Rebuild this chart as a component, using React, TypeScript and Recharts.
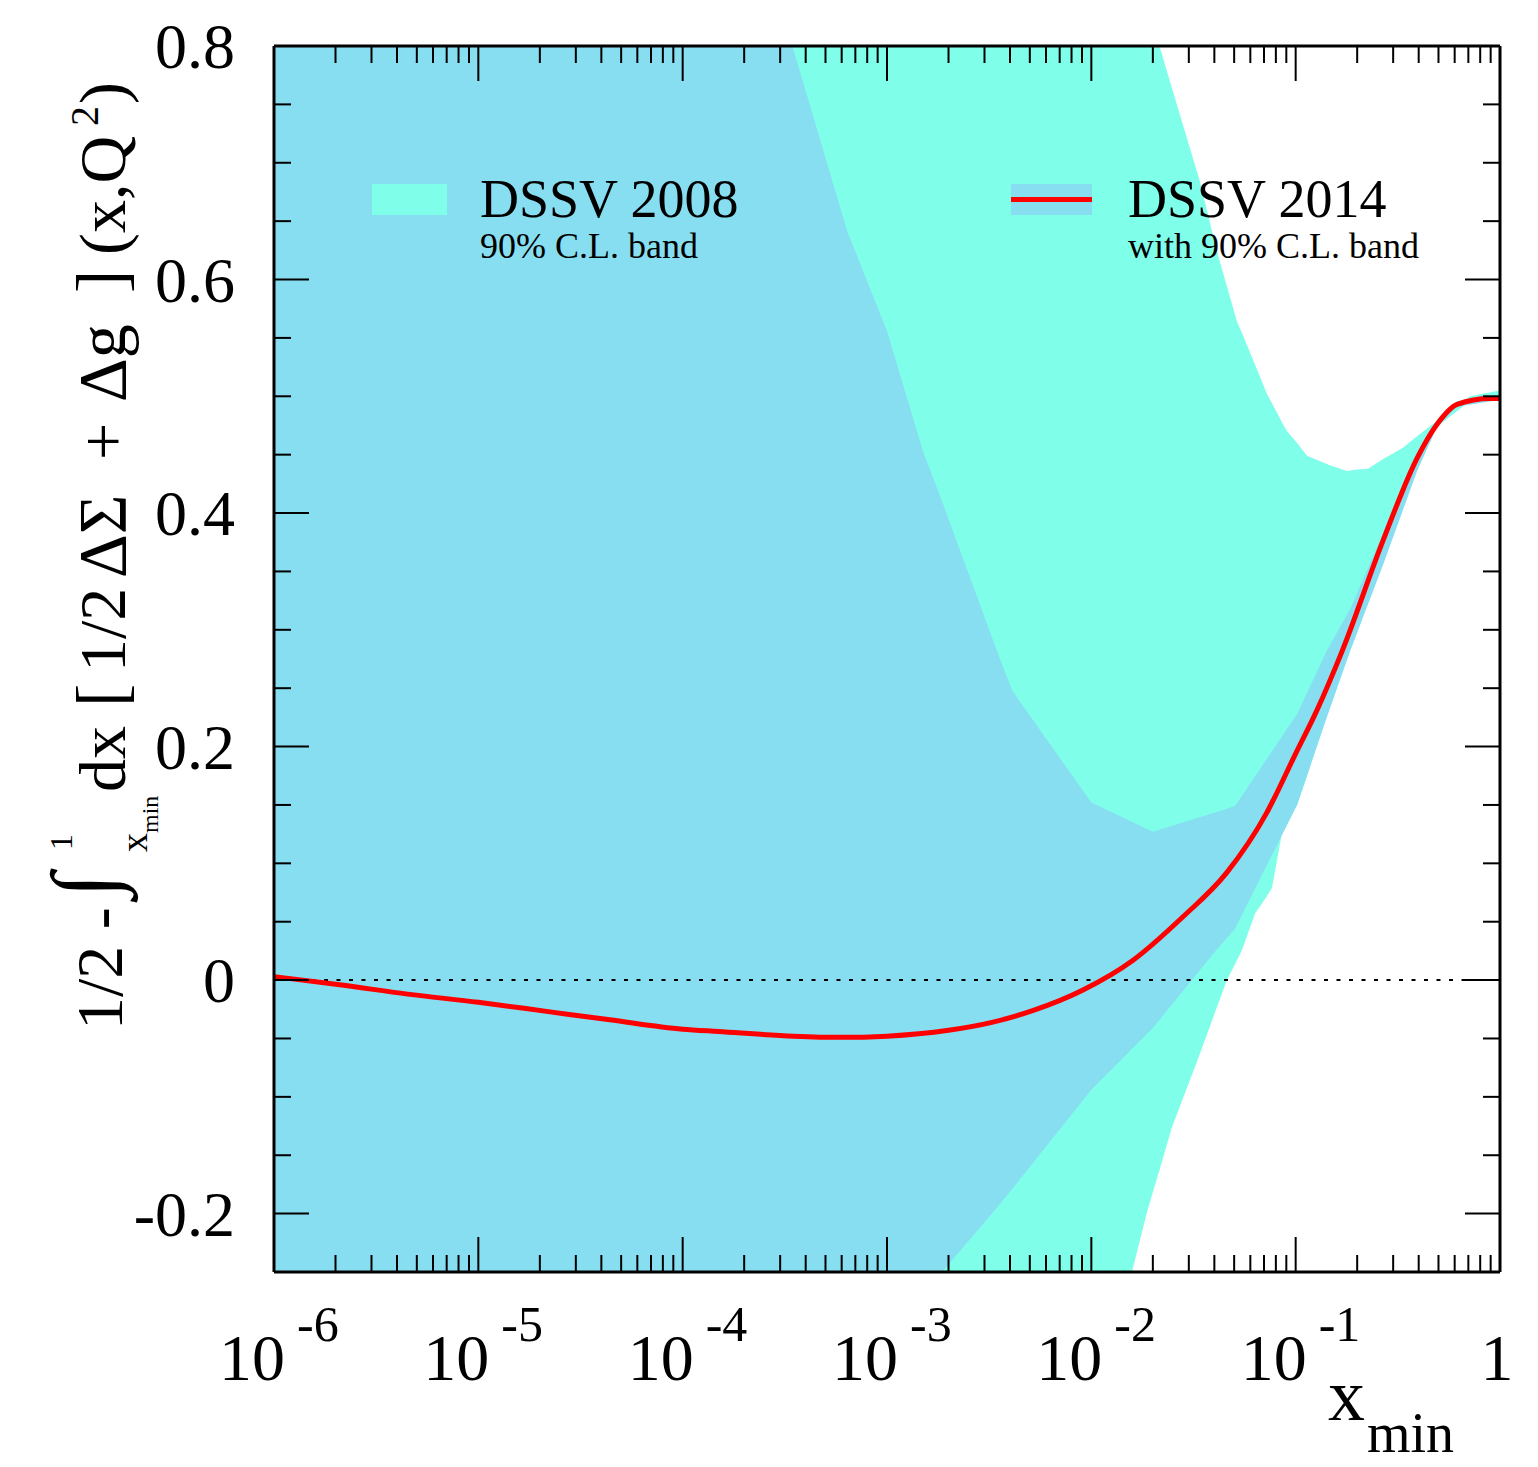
import { ComposedChart, Area, Line, XAxis, YAxis, ReferenceLine } from "recharts";

const W = 1538;
const H = 1467;
const FONT = '"Liberation Serif", "Times New Roman", serif';
const BAND_2008 = "#7ffee9";
const BAND_2014 = "#88def1";

// DSSV 2014 central curve
const curveX = [
  1e-6, 2.1e-6, 4.5e-6, 1e-5, 2.2e-5, 4.4e-5, 1e-4, 1.5e-4, 3.5e-4, 5.9e-4, 1e-3, 2e-3, 3.3e-3, 5.2e-3,
  9.1e-3, 1.6e-2, 2.8e-2, 4.6e-2, 7.2e-2, 0.1, 0.127, 0.169, 0.267, 0.393, 0.492, 0.617, 0.893, 1,
];
const curveY = [
  0.003, -0.004, -0.012, -0.019, -0.027, -0.034, -0.042, -0.044, -0.048, -0.049, -0.048, -0.043, -0.036,
  -0.026, -0.0085, 0.017, 0.054, 0.092, 0.143, 0.194, 0.231, 0.282, 0.376, 0.447, 0.476, 0.493, 0.498,
  0.498,
];

// DSSV 2014 90% C.L. band
const band14X = [
  1e-6, 1e-4, 3.47e-4, 6.4e-4, 1e-3, 1.5e-3, 1.86e-3, 3.45e-3, 4.1e-3, 1e-2, 2e-2, 4.1e-2, 5.05e-2, 0.1016,
  0.142, 0.185, 0.267, 0.393, 0.492, 0.617, 1,
];
const band14Lo = [
  -0.6, -0.45, -0.4, -0.345, -0.305, -0.27, -0.25, -0.195, -0.179, -0.094, -0.041, 0.026, 0.044, 0.15, 0.225,
  0.282, 0.355, 0.436, 0.474, 0.491, 0.497,
];
const band14Hi = [
  1.5, 1.1, 0.798, 0.641, 0.556, 0.453, 0.41, 0.282, 0.248, 0.152, 0.127, 0.144, 0.149, 0.228, 0.282, 0.318,
  0.382, 0.452, 0.48, 0.496, 0.501,
];

// DSSV 2008 90% C.L. band
const band08X = [
  1e-6, 1e-3, 1.1e-2, 1.58e-2, 1.87e-2, 2.17e-2, 2.48e-2, 3.4e-2, 4.12e-2, 4.61e-2, 5.16e-2, 5.47e-2, 6.33e-2,
  7.24e-2, 7.66e-2, 8.67e-2, 9.08e-2, 0.1016, 0.1137, 0.147, 0.178, 0.195, 0.226, 0.267, 0.335, 0.375, 0.492,
  0.713, 1,
];
const band08Lo = [
  -0.6, -0.5, -0.36, -0.25, -0.199, -0.161, -0.126, -0.063, -0.023, 0, 0.017, 0.026, 0.057, 0.072, 0.079,
  0.131, 0.136, 0.15, 0.175, 0.236, 0.275, 0.293, 0.325, 0.368, 0.411, 0.438, 0.474, 0.496, 0.499,
];
const band08Hi = [
  1.5, 1.2, 0.97, 0.878, 0.835, 0.798, 0.764, 0.684, 0.624, 0.594, 0.564, 0.554, 0.527, 0.502, 0.494, 0.476,
  0.47, 0.46, 0.449, 0.441, 0.436, 0.437, 0.438, 0.446, 0.456, 0.463, 0.479, 0.5, 0.505,
];

const decades = [1e-6, 1e-5, 1e-4, 1e-3, 1e-2, 1e-1, 1];
const xTicks = decades.flatMap((d, i) =>
  i === decades.length - 1 ? [d] : [1, 2, 3, 4, 5, 6, 7, 8, 9].map((m) => m * d)
);
const yTicks = [
  -0.2, -0.15, -0.1, -0.05, 0, 0.05, 0.1, 0.15, 0.2, 0.25, 0.3, 0.35, 0.4, 0.45, 0.5, 0.55, 0.6, 0.65, 0.7,
  0.75, 0.8,
];

const curveData = curveX.map((x, i) => ({ x, y: curveY[i] }));
const band14Data = band14X.map((x, i) => ({ x, range: [band14Lo[i], band14Hi[i]] }));
const band08Data = band08X.map((x, i) => ({ x, range: [band08Lo[i], band08Hi[i]] }));

const isDecade = (v: number) => Math.abs(Math.log10(v) - Math.round(Math.log10(v))) < 1e-6;
const isMajorY = (v: number) => Math.abs(v * 5 - Math.round(v * 5)) < 1e-6;

function BottomTick(props: any) {
  const { x, y, payload } = props;
  const v = payload.value;
  const major = isDecade(v);
  const e = Math.round(Math.log10(v));
  return (
    <g>
      <line x1={x} x2={x} y1={y} y2={y - (major ? 35 : 17)} stroke="#000" strokeWidth={2} />
      {major && e === 0 && (
        <text x={x - 3} y={y + 108} textAnchor="middle" fontFamily={FONT} fontSize={66} fill="#000">
          1
        </text>
      )}
      {major && e !== 0 && (
        <g fontFamily={FONT} fill="#000">
          <text x={x + 11} y={y + 108} textAnchor="end" fontSize={66}>
            10
          </text>
          <text x={x + 23} y={y + 69} textAnchor="start" fontSize={50}>
            {`-${-e}`}
          </text>
        </g>
      )}
    </g>
  );
}

function TopTick(props: any) {
  const { x, y, payload } = props;
  const major = isDecade(payload.value);
  return <line x1={x} x2={x} y1={y} y2={y + (major ? 35 : 17)} stroke="#000" strokeWidth={2} />;
}

function LeftTick(props: any) {
  const { x, y, payload } = props;
  const v = payload.value;
  const major = isMajorY(v);
  return (
    <g>
      <line x1={x} x2={x + (major ? 35 : 17)} y1={y} y2={y} stroke="#000" strokeWidth={2} />
      {major && (
        <text x={x - 39} y={y} dy="0.35em" textAnchor="end" fontFamily={FONT} fontSize={64} fill="#000">
          {v === 0 ? "0" : String(v)}
        </text>
      )}
    </g>
  );
}

function RightTick(props: any) {
  const { x, y, payload } = props;
  const major = isMajorY(payload.value);
  return <line x1={x} x2={x - (major ? 35 : 17)} y1={y} y2={y} stroke="#000" strokeWidth={2} />;
}

// rotated text piece of the y title, starting at page y and sitting on baseline page x
function V({ x, y, size, children }: { x: number; y: number; size: number; children: any }) {
  return (
    <text transform={`translate(${x},${y}) rotate(-90)`} fontFamily={FONT} fontSize={size} fill="#000">
      {children}
    </text>
  );
}

function Overlay() {
  return (
    <svg width={W} height={H} style={{ position: "absolute", left: 0, top: 0, pointerEvents: "none" }}>
      {/* legend */}
      <rect x={372} y={184} width={75} height={31} fill={BAND_2008} />
      <text x={480} y={217} fontFamily={FONT} fontSize={54} fill="#000">DSSV 2008</text>
      <text x={480} y={258} fontFamily={FONT} fontSize={36} fill="#000">90% C.L. band</text>
      <rect x={1011} y={184} width={81} height={31} fill={BAND_2014} />
      <line x1={1011} x2={1092} y1={199.5} y2={199.5} stroke="#ff0000" strokeWidth={5} />
      <text x={1128} y={217} fontFamily={FONT} fontSize={54} fill="#000">DSSV 2014</text>
      <text x={1128} y={258} fontFamily={FONT} fontSize={36} fill="#000">with 90% C.L. band</text>

      {/* x title */}
      <text x={1328} y={1420} fontFamily={FONT} fontSize={74} fill="#000">x</text>
      <text x={1367} y={1452} fontFamily={FONT} fontSize={56} fill="#000">min</text>

      {/* y title */}
      <V x={122} y={1030} size={66}>1/2 -</V>
      <V x={114} y={898} size={90}>∫</V>
      <V x={72} y={850} size={32}>1</V>
      <V x={147} y={852} size={38}>x</V>
      <V x={158} y={833} size={24}>min</V>
      <V x={125} y={792} size={66}>dx</V>
      <V x={125} y={707} size={70}>[</V>
      <V x={125} y={672} size={66}>1/2</V>
      <V x={125} y={578} size={68}>ΔΣ</V>
      <V x={125} y={460} size={66}>+</V>
      <V x={125} y={402} size={68}>Δg</V>
      <V x={125} y={293} size={70}>]</V>
      <V x={125} y={255} size={66}>(x,Q</V>
      <V x={98} y={126} size={40}>2</V>
      <V x={125} y={104} size={66}>)</V>
    </svg>
  );
}

export default function App() {
  return (
    <div style={{ position: "absolute", left: 0, top: 0, width: W, height: H, background: "#fff" }}>
      <ComposedChart width={W} height={H} margin={{ top: 36, right: 28, bottom: 95, left: 124 }}>
        <XAxis
          xAxisId="b"
          dataKey="x"
          type="number"
          scale="log"
          domain={[1e-6, 1]}
          allowDataOverflow
          ticks={xTicks}
          interval={0}
          tickSize={0}
          tickMargin={0}
          tickLine={false}
          tick={(p: any) => <BottomTick {...p} />}
          axisLine={{ stroke: "#000", strokeWidth: 3 }}
          height={100}
        />
        <XAxis
          xAxisId="t"
          orientation="top"
          dataKey="x"
          type="number"
          scale="log"
          domain={[1e-6, 1]}
          allowDataOverflow
          ticks={xTicks}
          interval={0}
          tickSize={0}
          tickMargin={0}
          tickLine={false}
          tick={(p: any) => <TopTick {...p} />}
          axisLine={{ stroke: "#000", strokeWidth: 3 }}
          height={10}
        />
        <YAxis
          yAxisId="l"
          type="number"
          domain={[-0.25, 0.8]}
          allowDataOverflow
          ticks={yTicks}
          interval={0}
          tickSize={0}
          tickMargin={0}
          tickLine={false}
          tick={(p: any) => <LeftTick {...p} />}
          axisLine={{ stroke: "#000", strokeWidth: 3 }}
          width={150}
        />
        <YAxis
          yAxisId="r"
          orientation="right"
          type="number"
          domain={[-0.25, 0.8]}
          allowDataOverflow
          ticks={yTicks}
          interval={0}
          tickSize={0}
          tickMargin={0}
          tickLine={false}
          tick={(p: any) => <RightTick {...p} />}
          axisLine={{ stroke: "#000", strokeWidth: 3 }}
          width={10}
        />
        <Area
          xAxisId="b"
          yAxisId="l"
          data={band08Data}
          dataKey="range"
          type="linear"
          fill={BAND_2008}
          fillOpacity={1}
          stroke="none"
          isAnimationActive={false}
        />
        <Area
          xAxisId="b"
          yAxisId="l"
          data={band14Data}
          dataKey="range"
          type="linear"
          fill={BAND_2014}
          fillOpacity={1}
          stroke="none"
          isAnimationActive={false}
        />
        <ReferenceLine xAxisId="b" yAxisId="l" y={0} stroke="#000" strokeWidth={2} strokeDasharray="4 8.5" />
        <Line
          xAxisId="b"
          yAxisId="l"
          data={curveData}
          dataKey="y"
          type="monotone"
          stroke="#ff0000"
          strokeWidth={5}
          dot={false}
          isAnimationActive={false}
        />
      </ComposedChart>
      <Overlay />
    </div>
  );
}
